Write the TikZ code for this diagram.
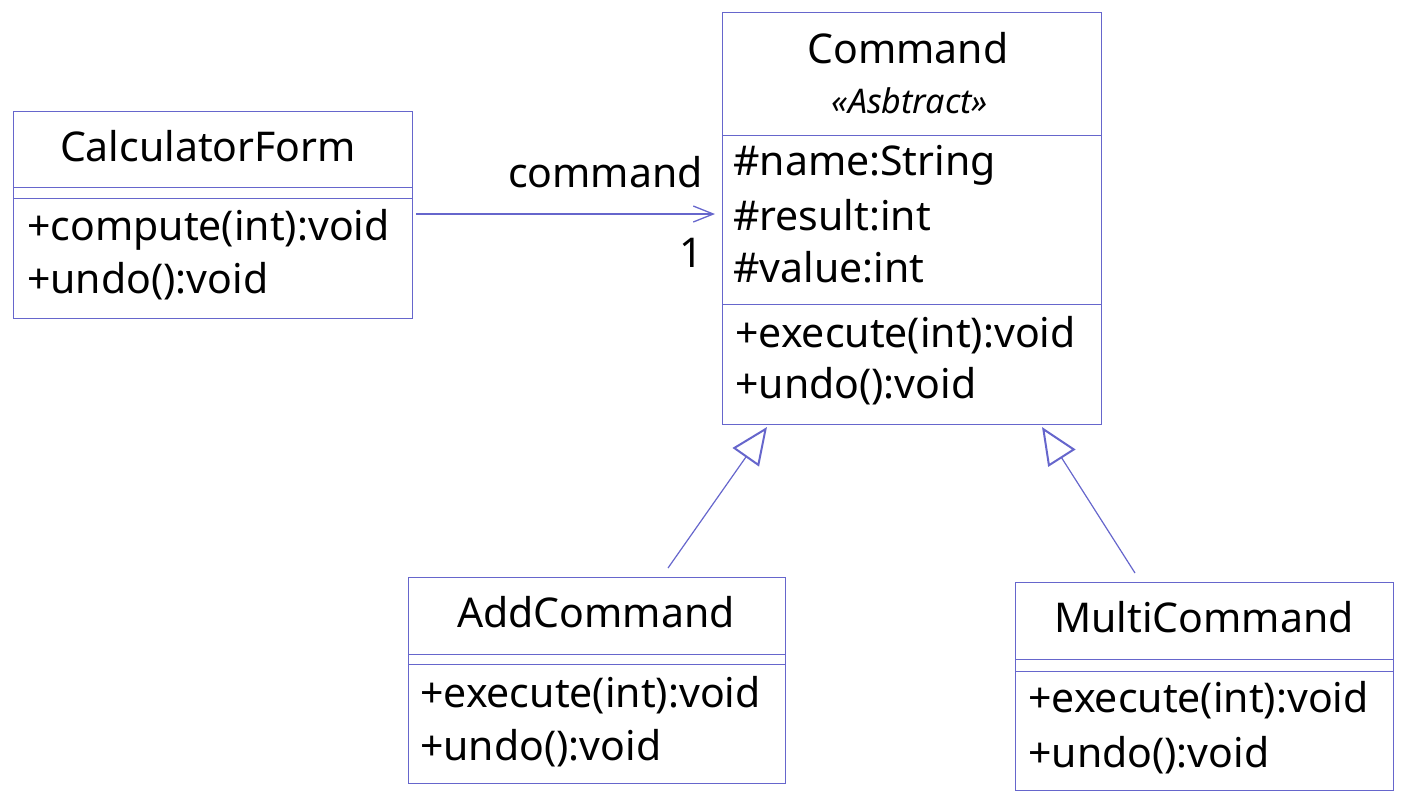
\documentclass[tikz,border=0pt]{standalone}
\usepackage{fontspec}
\setmainfont{Noto Sans}
\usetikzlibrary{arrows.meta}
\definecolor{uml}{RGB}{102,102,204}
\begin{document}
\begin{tikzpicture}[x=1pt,y=-1pt,
  classbox/.style={draw=uml, line width=1pt, inner sep=0pt, anchor=north west},
  sep/.style={draw=uml, line width=1pt},
  member/.style={font=\fontsize{41}{48}\selectfont, inner sep=0pt, anchor=base west},
  cname/.style={font=\fontsize{41}{48}\selectfont, inner sep=0pt, anchor=base},
  stereo/.style={font=\fontsize{34}{40}\selectfont\itshape, inner sep=0pt, anchor=base},
  lbl/.style={font=\fontsize{41}{48}\selectfont, inner sep=0pt, anchor=base east},
  assoc/.style={draw=uml, line width=1.3pt, -{Straight Barb[length=20pt, width=16pt, line width=1.3pt]}},
  inherit/.style={draw=uml, line width=1.2pt, -{Triangle[open, length=37pt, width=32pt, line width=2pt, fill=white]}}]
\useasboundingbox (0,0) rectangle (1405,804);

% CalculatorForm
\node[classbox, minimum width=399pt, minimum height=207pt] (calc) at (13,111) {};
\draw[sep] (calc.west |- 0,187) -- (calc.east |- 0,187);
\draw[sep] (calc.west |- 0,198) -- (calc.east |- 0,198);
\node[cname] (calcname) at (208,161) {CalculatorForm};
\node[member] (calcm1) at (27,240) {+compute(int):void};
\node[member] (calcm2) at (27,293) {+undo():void};

% Command
\node[classbox, minimum width=379pt, minimum height=412pt] (cmd) at (722,12) {};
\draw[sep] (cmd.west |- 0,135) -- (cmd.east |- 0,135);
\draw[sep] (cmd.west |- 0,304) -- (cmd.east |- 0,304);
\node[cname] (cmdname) at (908,63) {Command};
\node[stereo] (cmdstereo) at (910,113) {«Asbtract»};
\node[member] (cmda1) at (733,175) {\#name:String};
\node[member] (cmda2) at (733,230) {\#result:int};
\node[member] (cmda3) at (733,282) {\#value:int};
\node[member] (cmdm1) at (735,347) {+execute(int):void};
\node[member] (cmdm2) at (735,398) {+undo():void};

% AddCommand
\node[classbox, minimum width=377pt, minimum height=206pt] (add) at (408,577) {};
\draw[sep] (add.west |- 0,654) -- (add.east |- 0,654);
\draw[sep] (add.west |- 0,664) -- (add.east |- 0,664);
\node[cname] (addname) at (596,627) {AddCommand};
\node[member] (addm1) at (420,707) {+execute(int):void};
\node[member] (addm2) at (420,760) {+undo():void};

% MultiCommand
\node[classbox, minimum width=378pt, minimum height=208pt] (multi) at (1015,582) {};
\draw[sep] (multi.west |- 0,659) -- (multi.east |- 0,659);
\draw[sep] (multi.west |- 0,671) -- (multi.east |- 0,671);
\node[cname] (multiname) at (1204,632) {MultiCommand};
\node[member] (multim1) at (1028,712) {+execute(int):void};
\node[member] (multim2) at (1028,767) {+undo():void};

% association
\draw[assoc, shorten <=3pt, shorten >=7pt] (calc.east |- 0,214) -- (cmd.west |- 0,214);
\node[lbl] (rolename) at (703,187) {command};
\node[lbl] (mult) at (703,267) {1};

% generalizations
\coordinate (addtop) at (668,568);
\coordinate (cmdbase1) at (767,427);
\coordinate (multitop) at (1135,573);
\coordinate (cmdbase2) at (1042,427);
\draw[inherit] (addtop) -- (cmdbase1);
\draw[inherit] (multitop) -- (cmdbase2);
\end{tikzpicture}
\end{document}
